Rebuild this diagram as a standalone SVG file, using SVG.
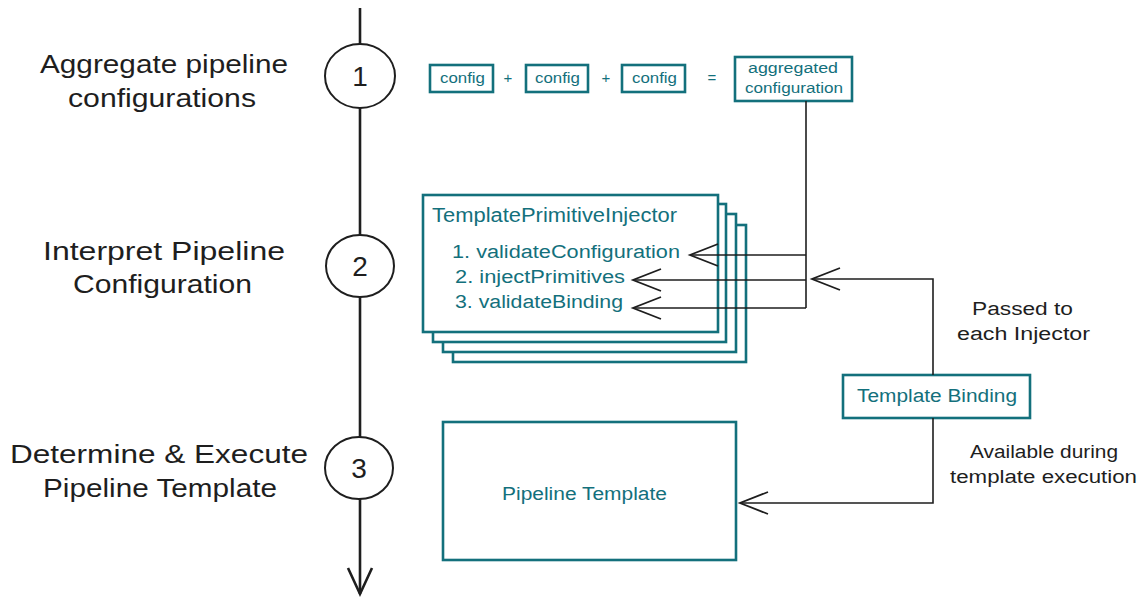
<svg xmlns="http://www.w3.org/2000/svg" width="1146" height="609" viewBox="0 0 1146 609">
<defs>
<style>
.lbl{font-family:"Liberation Sans",Arial,sans-serif;font-size:26px;fill:#1e1e1e;text-anchor:start}
.note{font-family:"Liberation Sans",Arial,sans-serif;font-size:18px;fill:#1e1e1e}
.tl{font-family:"Liberation Sans",Arial,sans-serif;fill:#13707c}
.box{fill:#ffffff;stroke:#13707c;stroke-width:2.6}
.circ{fill:#ffffff;stroke:#1e1e1e;stroke-width:2}
.num{font-family:"Liberation Sans",Arial,sans-serif;font-size:28px;fill:#1e1e1e;text-anchor:middle}
.conn{fill:none;stroke:#1e1e1e;stroke-width:1.6}
.axis{fill:none;stroke:#1e1e1e;stroke-width:2.6}
</style>
<marker id="arr" markerUnits="userSpaceOnUse" markerWidth="40" markerHeight="40" refX="0" refY="0" orient="auto" overflow="visible">
<path d="M-28,-11 L0,0 L-28,11" fill="none" stroke="#1e1e1e" stroke-width="1.8"/>
</marker>
<marker id="arrAxis" markerUnits="userSpaceOnUse" markerWidth="40" markerHeight="40" refX="0" refY="0" orient="auto" overflow="visible">
<path d="M-26,-12 L0,0 L-26,12" fill="none" stroke="#1e1e1e" stroke-width="2.6"/>
</marker>
</defs>
<rect width="1146" height="609" fill="#ffffff"/>

<g id="step1">
<ellipse class="circ" cx="360" cy="76" rx="35" ry="32"/>
<text class="num" x="360" y="86">1</text>
<text class="lbl" x="40" y="73" textLength="248" lengthAdjust="spacingAndGlyphs">Aggregate pipeline</text>
<text class="lbl" x="68" y="107" textLength="188" lengthAdjust="spacingAndGlyphs">configurations</text>
</g>
<g id="step2">
<ellipse class="circ" cx="360" cy="266" rx="34" ry="31"/>
<text class="num" x="360" y="276">2</text>
<text class="lbl" x="43" y="260" textLength="242" lengthAdjust="spacingAndGlyphs">Interpret Pipeline</text>
<text class="lbl" x="73" y="293" textLength="179" lengthAdjust="spacingAndGlyphs">Configuration</text>
</g>
<g id="step3">
<ellipse class="circ" cx="359" cy="468" rx="34" ry="31"/>
<text class="num" x="359" y="478">3</text>
<text class="lbl" x="10" y="463" textLength="298" lengthAdjust="spacingAndGlyphs">Determine &amp; Execute</text>
<text class="lbl" x="43" y="497" textLength="234" lengthAdjust="spacingAndGlyphs">Pipeline Template</text>
</g>

<g id="config1">
<rect class="box" x="430" y="65" width="63" height="27"/>
<text class="tl" x="440" y="83" font-size="14" textLength="45" lengthAdjust="spacingAndGlyphs">config</text>
</g>
<g id="plus1"><text class="tl" x="508" y="83" font-size="15" text-anchor="middle">+</text></g>
<g id="config2">
<rect class="box" x="526" y="65" width="62" height="27"/>
<text class="tl" x="535" y="83" font-size="14" textLength="45" lengthAdjust="spacingAndGlyphs">config</text>
</g>
<g id="plus2"><text class="tl" x="606" y="83" font-size="15" text-anchor="middle">+</text></g>
<g id="config3">
<rect class="box" x="622" y="65" width="63" height="27"/>
<text class="tl" x="632" y="83" font-size="14" textLength="45" lengthAdjust="spacingAndGlyphs">config</text>
</g>
<g id="equals"><text class="tl" x="712" y="83" font-size="15" text-anchor="middle">=</text></g>
<g id="aggregated">
<rect class="box" x="735" y="57" width="117" height="44"/>
<text class="tl" x="748" y="73" font-size="14" textLength="90" lengthAdjust="spacingAndGlyphs">aggregated</text>
<text class="tl" x="745" y="93" font-size="14" textLength="98" lengthAdjust="spacingAndGlyphs">configuration</text>
</g>

<g id="injectors">
<rect class="box" x="453" y="225" width="293" height="137"/>
<rect class="box" x="443" y="214" width="293" height="138"/>
<rect class="box" x="433" y="204" width="293" height="138"/>
<rect class="box" x="423" y="195" width="295" height="137"/>
<text class="tl" x="432" y="222" font-size="20" textLength="245" lengthAdjust="spacingAndGlyphs">TemplatePrimitiveInjector</text>
<text class="tl" x="452" y="258" font-size="18" textLength="228" lengthAdjust="spacingAndGlyphs">1. validateConfiguration</text>
<text class="tl" x="455" y="283" font-size="18" textLength="170" lengthAdjust="spacingAndGlyphs">2. injectPrimitives</text>
<text class="tl" x="455" y="308" font-size="18" textLength="168" lengthAdjust="spacingAndGlyphs">3. validateBinding</text>
</g>

<g id="template-binding">
<rect class="box" x="843" y="375" width="187" height="43"/>
<text class="tl" x="857" y="402" font-size="18" textLength="160" lengthAdjust="spacingAndGlyphs">Template Binding</text>
</g>

<g id="pipeline-template">
<rect class="box" x="443" y="422" width="293" height="138"/>
<text class="tl" x="502" y="500" font-size="18" textLength="165" lengthAdjust="spacingAndGlyphs">Pipeline Template</text>
</g>

<g id="note-passed">
<text class="note" x="972" y="315" textLength="101" lengthAdjust="spacingAndGlyphs">Passed to</text>
<text class="note" x="957" y="340" textLength="133" lengthAdjust="spacingAndGlyphs">each Injector</text>
</g>
<g id="note-available">
<text class="note" x="970" y="458" textLength="148" lengthAdjust="spacingAndGlyphs">Available during</text>
<text class="note" x="950" y="483" textLength="187" lengthAdjust="spacingAndGlyphs">template execution</text>
</g>

<g id="connectors">
<path class="axis" d="M360,8 V44"/>
<path class="axis" d="M360,108 V235"/>
<path class="axis" d="M360,297 V437"/>
<path class="axis" d="M360,499 V594" marker-end="url(#arrAxis)"/>
<path class="conn" d="M806,101 V308"/>
<path class="conn" d="M806,255 H690" marker-end="url(#arr)"/>
<path class="conn" d="M806,280 H633" marker-end="url(#arr)"/>
<path class="conn" d="M806,308 H633" marker-end="url(#arr)"/>
<path class="conn" d="M933,375 V279 H812" marker-end="url(#arr)"/>
<path class="conn" d="M933,418 V503 H740" marker-end="url(#arr)"/>
</g>
</svg>
